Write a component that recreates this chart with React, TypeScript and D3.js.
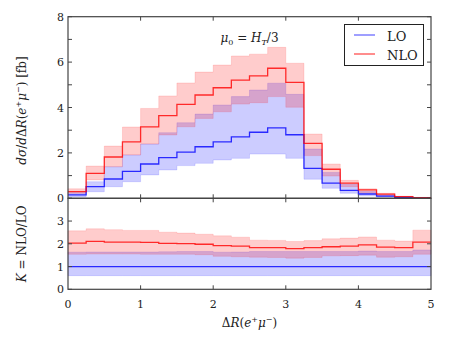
import React from "react";
import * as d3 from "d3";

// bin edges: 20 bins of 0.25 from 0 to 5
const binStarts = [0, 0.25, 0.5, 0.75, 1, 1.25, 1.5, 1.75, 2, 2.25, 2.5, 2.75, 3, 3.25, 3.5, 3.75, 4, 4.25, 4.5, 4.75];
const binWidth = 0.25;

// upper panel: d sigma / d DeltaR [fb]
const loCentral = [0.15, 0.51, 0.85, 1.19, 1.51, 1.79, 2.03, 2.27, 2.49, 2.71, 2.91, 3.10, 2.80, 1.32, 0.67, 0.35, 0.19, 0.10, 0.04, 0.02];
const loUpper = [0.25, 0.73, 1.39, 1.91, 2.39, 2.89, 3.33, 3.71, 4.11, 4.48, 4.77, 5.07, 4.58, 2.17, 1.14, 0.62, 0.30, 0.15, 0.06, 0.03];
const loLower = [0.07, 0.29, 0.51, 0.73, 1.03, 1.25, 1.44, 1.54, 1.69, 1.76, 1.95, 1.95, 1.76, 0.84, 0.44, 0.22, 0.11, 0.07, 0.02, 0.01];
const nloCentral = [0.29, 1.10, 1.82, 2.49, 3.15, 3.64, 4.14, 4.55, 4.87, 5.21, 5.39, 5.73, 5.11, 2.42, 1.28, 0.67, 0.37, 0.18, 0.07, 0.03];
const nloUpper = [0.42, 1.42, 2.30, 3.14, 3.96, 4.51, 5.08, 5.56, 5.87, 6.27, 6.35, 6.65, 5.95, 2.83, 1.51, 0.79, 0.42, 0.22, 0.09, 0.04];
const nloLower = [0.22, 0.81, 1.39, 1.91, 2.39, 2.79, 3.15, 3.52, 3.81, 4.15, 4.21, 4.48, 4.01, 1.88, 0.98, 0.51, 0.24, 0.12, 0.05, 0.02];

// lower panel: K factor
const kLo = [1, 1, 1, 1, 1, 1, 1, 1, 1, 1, 1, 1, 1, 1, 1, 1, 1, 1, 1, 1];
const kLoUpper = [1.63, 1.64, 1.64, 1.64, 1.64, 1.65, 1.66, 1.66, 1.63, 1.64, 1.66, 1.66, 1.66, 1.66, 1.66, 1.66, 1.68, 1.66, 1.66, 1.73];
const kLoLower = [0.6, 0.6, 0.6, 0.6, 0.6, 0.6, 0.6, 0.6, 0.6, 0.6, 0.6, 0.6, 0.6, 0.6, 0.6, 0.6, 0.6, 0.6, 0.6, 0.6];
const kNlo = [2.03, 2.11, 2.07, 2.07, 2.06, 2.02, 2.01, 1.98, 1.92, 1.90, 1.83, 1.83, 1.79, 1.83, 1.87, 1.90, 1.95, 1.85, 1.83, 2.07];
const kNloUpper = [2.57, 2.66, 2.62, 2.59, 2.59, 2.51, 2.47, 2.42, 2.35, 2.29, 2.16, 2.15, 2.10, 2.14, 2.22, 2.25, 2.30, 2.16, 2.12, 2.60];
const kNloLower = [1.54, 1.55, 1.55, 1.55, 1.54, 1.54, 1.54, 1.52, 1.45, 1.43, 1.41, 1.40, 1.37, 1.40, 1.47, 1.48, 1.50, 1.41, 1.43, 1.54];

const xTicks = [0, 1, 2, 3, 4, 5];
const topTicks = [0, 1, 2, 3, 4, 5, 6, 7, 8];
const topLabels = [0, 2, 4, 6, 8];
const botTicks = [0, 1, 2, 3, 4];
const botLabels = [0, 1, 2, 3];

const W = 454, H = 341;
const left = 68, right = 431;
const topY0 = 16.7, topY1 = 198.3, botY1 = 289.3;
const BLUE = "#0000ff", RED = "#ff0000";
const FONT = "DejaVu Serif";
const AXC = "#444";
const txt = { fontFamily: FONT };

// step points: each bin start + final edge repeating last value
const steps = (vals: number[]) => {
  const pts = binStarts.map((x, i) => ({ x, v: vals[i] }));
  pts.push({ x: binStarts[binStarts.length - 1] + binWidth, v: vals[vals.length - 1] });
  return pts;
};

const App = () => {
  const x = d3.scaleLinear().domain([0, 5]).range([left, right]);
  const yTop = d3.scaleLinear().domain([0, 8]).range([topY1, topY0]);
  const yBot = d3.scaleLinear().domain([0, 4]).range([botY1, topY1]);

  const band = (lo: number[], hi: number[], y: d3.ScaleLinear<number, number>) => {
    const lp = steps(lo), hp = steps(hi);
    const pts = lp.map((p, i) => ({ x: p.x, lo: p.v, hi: hp[i].v }));
    return d3.area<any>().curve(d3.curveStepAfter).x((d) => x(d.x)).y0((d) => y(d.lo)).y1((d) => y(d.hi))(pts) || "";
  };
  const line = (vals: number[], y: d3.ScaleLinear<number, number>) =>
    d3.line<any>().curve(d3.curveStepAfter).x((d) => x(d.x)).y((d) => y(d.v))(steps(vals)) || "";

  const frame = (y0: number, y1: number, yScale: d3.ScaleLinear<number, number>, yt: number[]) => (
    <g>
      {xTicks.slice(1, -1).map((t) => (
        <g key={"x" + t}>
          <line x1={x(t)} x2={x(t)} y1={y0} y2={y0 + 4} stroke={AXC} />
          <line x1={x(t)} x2={x(t)} y1={y1} y2={y1 - 4} stroke={AXC} />
        </g>
      ))}
      {yt.map((t) => (
        <g key={"y" + t}>
          <line x1={left} x2={left + 4} y1={yScale(t)} y2={yScale(t)} stroke={AXC} />
          <line x1={right} x2={right - 4} y1={yScale(t)} y2={yScale(t)} stroke={AXC} />
        </g>
      ))}
      <rect x={left} y={y0} width={right - left} height={y1 - y0} fill="none" stroke={AXC} strokeWidth={1.2} />
    </g>
  );

  return (
    <svg width={W} height={H} style={{ position: "absolute", left: 0, top: 0, background: "#fff" }}>
      {/* upper panel bands and lines */}
      <path d={band(loLower, loUpper, yTop)} fill={BLUE} fillOpacity={0.2} stroke={BLUE} strokeOpacity={0.12} />
      <path d={band(nloLower, nloUpper, yTop)} fill={RED} fillOpacity={0.2} stroke={RED} strokeOpacity={0.12} />
      <path d={line(loCentral, yTop)} fill="none" stroke={BLUE} strokeOpacity={0.8} strokeWidth={1.3} />
      <path d={line(nloCentral, yTop)} fill="none" stroke={RED} strokeOpacity={0.8} strokeWidth={1.3} />

      {/* lower panel */}
      <path d={band(kLoLower, kLoUpper, yBot)} fill={BLUE} fillOpacity={0.2} stroke={BLUE} strokeOpacity={0.12} />
      <path d={band(kNloLower, kNloUpper, yBot)} fill={RED} fillOpacity={0.2} stroke={RED} strokeOpacity={0.12} />
      <path d={line(kLo, yBot)} fill="none" stroke={BLUE} strokeOpacity={0.8} strokeWidth={1.3} />
      <path d={line(kNlo, yBot)} fill="none" stroke={RED} strokeOpacity={0.8} strokeWidth={1.3} />

      {frame(topY0, topY1, yTop, topTicks)}
      {frame(topY1, botY1, yBot, botTicks)}

      {/* tick labels */}
      {topLabels.map((t) => (
        <text key={"tl" + t} style={txt} x={64} y={yTop(t) + 4} textAnchor="end" fontSize={11} fill="#222">{t}</text>
      ))}
      {botLabels.map((t) => (
        <text key={"bl" + t} style={txt} x={64} y={yBot(t) + 4} textAnchor="end" fontSize={11} fill="#222">{t}</text>
      ))}
      {xTicks.map((t) => (
        <text key={"xl" + t} style={txt} x={x(t)} y={308} textAnchor="middle" fontSize={11} fill="#222">{t}</text>
      ))}

      {/* axis titles */}
      <text style={txt} x={x(2.5)} y={327} textAnchor="middle" fontSize={12} fill="#222">
        Δ<tspan fontStyle="italic">R</tspan>(<tspan fontStyle="italic">e</tspan><tspan fontSize={8} dy={-5}>+</tspan><tspan fontStyle="italic" dy={5}>μ</tspan><tspan fontSize={8} dy={-5}>−</tspan><tspan dy={5}>)</tspan>
      </text>
      <text style={txt} transform={`translate(26,${(topY0 + topY1) / 2 + 3}) rotate(-90)`} textAnchor="middle" fontSize={12} fill="#222">
        <tspan fontStyle="italic">dσ</tspan>/<tspan fontStyle="italic">d</tspan>Δ<tspan fontStyle="italic">R</tspan>(<tspan fontStyle="italic">e</tspan><tspan fontSize={8} dy={-5}>+</tspan><tspan fontStyle="italic" dy={5}>μ</tspan><tspan fontSize={8} dy={-5}>−</tspan><tspan dy={5}>) [fb]</tspan>
      </text>
      <text style={txt} transform={`translate(26,${(topY1 + botY1) / 2}) rotate(-90)`} textAnchor="middle" fontSize={12} fill="#222">
        <tspan fontStyle="italic">K</tspan> = NLO/LO
      </text>

      {/* scale annotation */}
      <text style={txt} x={x(2.5)} y={42} textAnchor="middle" fontSize={12} fill="#222">
        <tspan fontStyle="italic">μ</tspan><tspan fontSize={8} dy={3}>0</tspan><tspan dy={-3}> = </tspan><tspan fontStyle="italic">H</tspan><tspan fontSize={8} fontStyle="italic" dy={3}>T</tspan><tspan dy={-3}>/3</tspan>
      </text>

      {/* legend */}
      <g>
        <rect x={344.5} y={24.5} width={79} height={41} fill="#fff" stroke="#222" strokeWidth={1} />
        <line x1={354} x2={375} y1={35} y2={35} stroke={BLUE} strokeOpacity={0.5} strokeWidth={1.5} />
        <text style={txt} x={387} y={40.5} fontSize={13} fill="#222">LO</text>
        <line x1={354} x2={375} y1={54} y2={54} stroke={RED} strokeOpacity={0.75} strokeWidth={1.2} />
        <text style={txt} x={387} y={59.5} fontSize={13} fill="#222">NLO</text>
      </g>
    </svg>
  );
};

export default App;
